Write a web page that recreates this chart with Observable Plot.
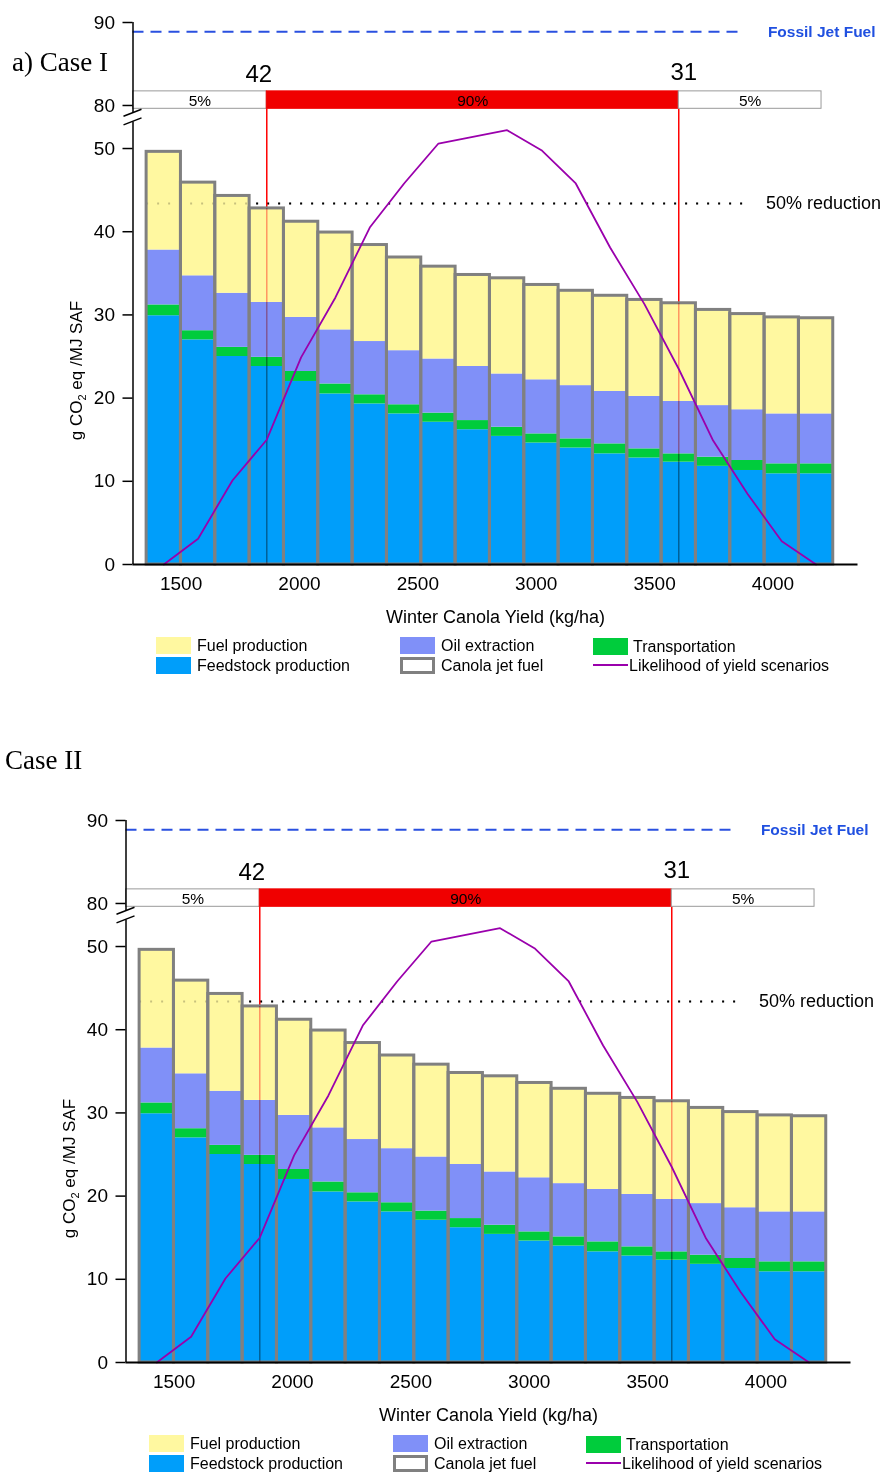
<!DOCTYPE html>
<html><head><meta charset="utf-8">
<script src="https://cdn.jsdelivr.net/npm/d3@7"></script>
<script src="https://cdn.jsdelivr.net/npm/@observablehq/plot@0.6"></script>
<style>
body{margin:0;background:#fff;font-family:"Liberation Sans",Arial,sans-serif;}
#page{position:relative;width:884px;height:1474px;overflow:hidden;background:#fff;}
.panel{position:absolute;width:884px;height:690px;}
.title{position:absolute;font-family:"Liberation Serif","Times New Roman",serif;font-size:27px;line-height:32px;color:#000;white-space:nowrap;}
.legend{position:absolute;left:0;top:0;width:884px;height:690px;pointer-events:none;font-size:16px;color:#000;}
.item{position:absolute;height:17px;line-height:17px;}
.sw{position:absolute;left:0;top:0;width:35px;height:17px;box-sizing:border-box;}
.lbl{position:absolute;left:41px;top:0;white-space:nowrap;}
</style></head><body><div id="page"></div>
<script>
// ---------- data ----------
const yields = [1427, 1572, 1717, 1862, 2007, 2152, 2297, 2442, 2587, 2732, 2877, 3022, 3167, 3312, 3457, 3602, 3747, 3892, 4037, 4182];
const feedstockProduction = [29.9, 27.0, 25.0, 23.8, 22.0, 20.5, 19.3, 18.1, 17.1, 16.2, 15.4, 14.6, 14.0, 13.3, 12.8, 12.3, 11.8, 11.3, 10.9, 10.9];
const transportation = [1.3, 1.1, 1.1, 1.1, 1.2, 1.2, 1.1, 1.1, 1.1, 1.1, 1.1, 1.1, 1.1, 1.2, 1.1, 1.0, 1.1, 1.2, 1.2, 1.2];
const oilExtraction = [6.6, 6.6, 6.5, 6.6, 6.5, 6.5, 6.4, 6.5, 6.5, 6.5, 6.4, 6.5, 6.4, 6.3, 6.3, 6.3, 6.2, 6.1, 6.0, 6.0];
const fuelProduction = [11.8, 11.2, 11.7, 11.3, 11.5, 11.7, 11.6, 11.2, 11.1, 11.0, 11.5, 11.4, 11.4, 11.5, 11.6, 11.8, 11.5, 11.5, 11.6, 11.5];
const likelihood = [0.0, 3.1, 10.1, 15.0, 24.9, 32.1, 40.5, 45.8, 50.6, 51.4, 52.2, 49.8, 45.8, 38.1, 31.3, 23.5, 14.9, 8.5, 2.8, 0.0];
const components = ["Feedstock production", "Transportation", "Oil extraction", "Fuel production"];
const componentColors = ["#009efa", "#00cc3c", "#8090f8", "#fff8a0"];
const fossilJetFuel = 88.9;
const reduction50 = 43.4;
const rangeEdges = [1297, 1862, 3602, 4205];
const rangeLabels = ["5%", "90%", "5%"];
const rangeFills = ["#ffffff", "#f00000", "#ffffff"];
const rangeMarkerLabels = ["42", "31"];
const yTicks = [0, 10, 20, 30, 40, 50, 80, 90];
const xTicks = [1500, 2000, 2500, 3000, 3500, 4000];

// ---------- derived tables ----------
const series = [feedstockProduction, transportation, oilExtraction, fuelProduction];
const halfStep = (yields[1] - yields[0]) / 2;
const stacked = yields.flatMap((yv, i) => {
  let base = 0;
  return series.map((s, k) => {
    const r = {yield: yv, comp: components[k], y1: base, y2: base + s[i]};
    base += s[i];
    return r;
  });
});
const totals = yields.map((yv, i) => ({yield: yv, total: series.reduce((a, s) => a + s[i], 0), like: likelihood[i]}));
const xMin = 1297, xMax = 4359, lineEnd = 3877;
const yBreakLow = 53.2, yBreakHigh = 79.07;
const rangeBottom = 79.6, rangeTop = 81.7, markerLabelY = 83.7;
const segments = rangeLabels.map((l, i) => ({x1: rangeEdges[i], x2: rangeEdges[i + 1], label: l, fill: rangeFills[i]}));
const markers = rangeMarkerLabels.map((l, i) => {
  const xv = rangeEdges[i + 1];
  const t = totals[yields.indexOf(xv)].total;
  return {x: xv, total: t, label: l};
});

function breakMarks(index, scales) {
  const g = d3.create("svg:g").attr("stroke", "#000").attr("stroke-width", 1.5);
  const px = scales.x(xMin);
  for (const v of [yBreakHigh, yBreakLow]) {
    const py = scales.y(v);
    g.append("line").attr("x1", px - 9).attr("x2", px + 9).attr("y1", py + 3.5).attr("y2", py - 3.5);
  }
  return g.node();
}

function makeChart() {
  const red = "#ff0000";
  const svg = Plot.plot({
    width: 884,
    height: 630,
    marginLeft: 132.5,
    marginRight: 26.5,
    marginTop: 22,
    marginBottom: 66,
    style: {fontFamily: "'Liberation Sans', Arial, sans-serif", fontSize: "19px", color: "#000", background: "transparent", overflow: "visible"},
    x: {type: "linear", domain: [xMin, xMax], range: [132.5, 857.5]},
    y: {type: "linear", domain: [0, yBreakLow, yBreakHigh, 90], range: [564, 121.4, 112.7, 22]},
    color: {domain: components, range: componentColors},
    marks: [
      Plot.ruleY([fossilJetFuel], {x1: xMin, x2: lineEnd, stroke: "#2a50e0", strokeWidth: 2, strokeDasharray: "11 7"}),
      Plot.text(["Fossil Jet Fuel"], {x: lineEnd, y: fossilJetFuel, dx: 24, textAnchor: "start", fill: "#2050e0", fontWeight: "bold", fontSize: 15.5}),
      Plot.ruleY([reduction50], {x1: yields[0] - halfStep, x2: lineEnd, stroke: "#000", strokeWidth: 2, strokeDasharray: "2 9"}),
      Plot.text(["50% reduction"], {x: lineEnd, y: reduction50, dx: 22, textAnchor: "start", fill: "#000", fontSize: 18}),
      Plot.ruleX(markers, {x: "x", y1: "total", y2: rangeBottom, stroke: red, strokeWidth: 1.5}),
      Plot.rect(stacked, {x1: d => d.yield - halfStep, x2: d => d.yield + halfStep, y1: "y1", y2: "y2", fill: "comp"}),
      Plot.ruleY([reduction50], {x1: yields[0] - halfStep, x2: lineEnd, stroke: "#000", strokeOpacity: 0.22, strokeWidth: 2, strokeDasharray: "2 9"}),
      Plot.rect(totals, {x1: d => d.yield - halfStep, x2: d => d.yield + halfStep, y1: 0, y2: "total", fill: "none", stroke: "#808080", strokeWidth: 3}),
      Plot.ruleX(markers, {x: "x", y1: 0, y2: "total", stroke: red, strokeWidth: 1.5, strokeOpacity: 0.4, mixBlendMode: "multiply"}),
      Plot.line(totals, {x: "yield", y: "like", stroke: "#9a00ac", strokeWidth: 1.8}),
      Plot.rect(segments, {x1: "x1", x2: "x2", y1: rangeBottom, y2: rangeTop, fill: d => d.fill, stroke: d => d.fill === "#ffffff" ? "#9a9a9a" : "#f00000", strokeWidth: 1}),
      Plot.text(segments, {x: d => (d.x1 + d.x2) / 2, y: (rangeBottom + rangeTop) / 2, text: "label", fontSize: 15.5, fill: "#000", dy: 1}),
      Plot.text(markers.slice(0, 1), {x: "x", y: markerLabelY, text: "label", fontSize: 24, dx: -8}),
      Plot.text(markers.slice(1), {x: "x", y: markerLabelY + 0.3, text: "label", fontSize: 24, dx: 5}),
      Plot.ruleX([xMin], {y1: 0, y2: yBreakLow, stroke: "#000", strokeWidth: 1.5}),
      Plot.ruleX([xMin], {y1: yBreakHigh, y2: 90, stroke: "#000", strokeWidth: 1.5}),
      Plot.ruleY([0], {x1: xMin, x2: xMax, stroke: "#000", strokeWidth: 2}),
      breakMarks,
      Plot.axisY({ticks: yTicks, tickSize: 10, tickPadding: 8, fontSize: 19, label: null, tickFormat: d => String(d), stroke: "#000", strokeWidth: 1.5}),
      Plot.axisX({ticks: xTicks, tickSize: 0, tickPadding: 12, fontSize: 19, label: null, tickFormat: d => String(d)}),
      Plot.text(["Winter Canola Yield (kg/ha)"], {frameAnchor: "bottom", lineAnchor: "middle", dy: 53, fontSize: 18}),
      Plot.text(["g CO\u2082 eq /MJ SAF"], {frameAnchor: "top-left", textAnchor: "middle", lineAnchor: "middle", dx: -56, dy: 348, rotate: -90, fontSize: 17})
    ]
  });
  // render the subscript in the y-axis title as a real subscript
  for (const t of svg.querySelectorAll("text")) {
    if (t.textContent === "g CO\u2082 eq /MJ SAF") {
      while (t.firstChild) t.removeChild(t.firstChild);
      const ns = "http://www.w3.org/2000/svg";
      const a = document.createElementNS(ns, "tspan"); a.textContent = "g CO";
      const b = document.createElementNS(ns, "tspan"); b.textContent = "2"; b.setAttribute("font-size", "11"); b.setAttribute("dy", "4");
      const c = document.createElementNS(ns, "tspan"); c.textContent = " eq /MJ SAF"; c.setAttribute("dy", "-4");
      t.append(a, b, c);
    }
  }
  return svg;
}

function makeLegend() {
  const lg = document.createElement("div");
  lg.className = "legend";
  const items = [
    {x: 156, y: 637, label: components[3], sw: `background:${componentColors[3]}`},
    {x: 156, y: 657, label: components[0], sw: `background:${componentColors[0]}`},
    {x: 400, y: 637, label: components[2], sw: `background:${componentColors[2]}`},
    {x: 400, y: 657, label: "Canola jet fuel", sw: `background:#fff;border:3px solid #808080`},
    {x: 593, y: 638, label: components[1], sw: `background:${componentColors[1]}`, lx: 40},
    {x: 593, y: 657, label: "Likelihood of yield scenarios", sw: `background:transparent;border-bottom:2px solid #9a00ac;height:9px;`, lx: 36}
  ];
  for (const it of items) {
    const d = document.createElement("div");
    d.className = "item";
    d.style.left = it.x + "px";
    d.style.top = it.y + "px";
    d.innerHTML = `<div class="sw" style="${it.sw}"></div><div class="lbl" style="${it.lx ? "left:" + it.lx + "px" : ""}">${it.label}</div>`;
    lg.appendChild(d);
  }
  return lg;
}

const page = document.getElementById("page");
const offsets = [{left: 0, top: 0}, {left: -7, top: 798}];
for (const o of offsets) {
  const p = document.createElement("div");
  p.className = "panel";
  p.style.left = o.left + "px";
  p.style.top = o.top + "px";
  const chart = makeChart();
  chart.style.position = "absolute";
  chart.style.left = "0px";
  chart.style.top = "0px";
  p.appendChild(chart);
  p.appendChild(makeLegend());
  page.appendChild(p);
}
const t1 = document.createElement("div");
t1.className = "title"; t1.textContent = "a) Case I"; t1.style.left = "12px"; t1.style.top = "46px";
const t2 = document.createElement("div");
t2.className = "title"; t2.textContent = "Case II"; t2.style.left = "5px"; t2.style.top = "744px";
page.appendChild(t1); page.appendChild(t2);
</script></body></html>
